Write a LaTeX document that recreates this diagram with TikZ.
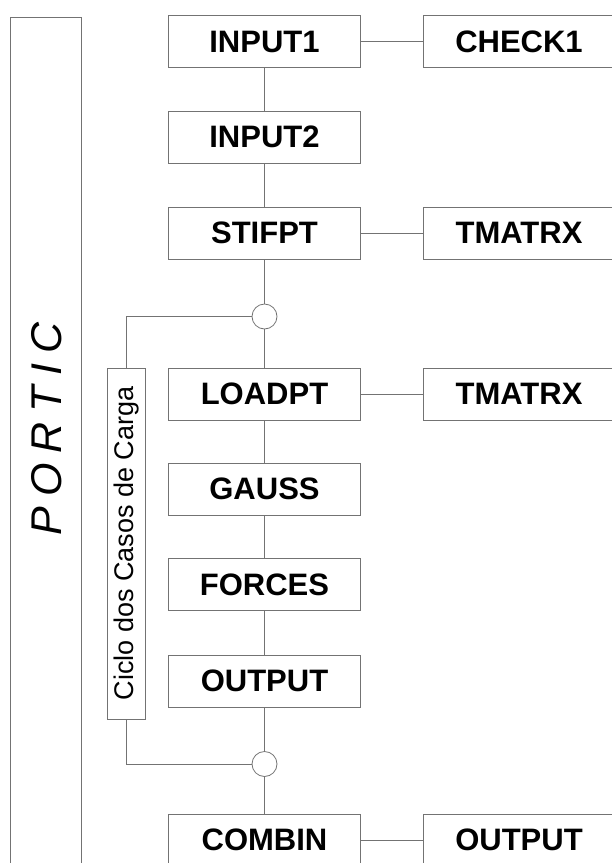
\documentclass[tikz,border=0pt]{standalone}
\usepackage{fontspec}
\usepackage{graphicx}
\setmainfont{Liberation Sans}
\begin{document}
\begin{tikzpicture}[x=1pt,y=-1pt,
  line/.style={draw=black!55, line width=0.8pt},
  prog/.style={line, minimum width=192pt, minimum height=52pt, inner sep=0pt,
    font=\fontsize{31}{36}\selectfont\bfseries},
  junction/.style={line, circle, minimum size=25pt, inner sep=0pt},
]
\useasboundingbox (0,0) rectangle (612,863);
\clip (0,0) rectangle (612,863);
% outer PORTIC frame
\node[line, minimum width=71pt, minimum height=900pt, inner sep=0pt] (portbox) at (45.5,467) {};
\node[font=\fontsize{43}{50}\selectfont\itshape, inner sep=0pt] (portic) at (47,429)
  {\rotatebox{90}{P\hspace{10pt}O\hspace{10pt}R\hspace{10pt}T\hspace{10pt}I\hspace{10pt}C}};
% main column
\node[prog] (in1)  at (264.5,41.5) {INPUT1};
\node[prog] (in2)  at (264.5,137) {INPUT2};
\node[prog] (stif) at (264.5,233) {STIFPT};
\node[junction] (c1) at (264.5,316.5) {};
\node[prog] (load) at (264.5,394) {LOADPT};
\node[prog] (gau)  at (264.5,489) {GAUSS};
\node[prog] (forc) at (264.5,584.5) {FORCES};
\node[prog] (outp) at (264.5,681) {OUTPUT};
\node[junction] (c2) at (264.5,764) {};
\node[prog] (comb) at (264.5,840) {COMBIN};
% right column
\node[prog] (chk)  at (519,41.5) {CHECK1};
\node[prog] (tm1)  at (519,233) {TMATRX};
\node[prog] (tm2)  at (519,394) {TMATRX};
\node[prog] (out2) at (519,840) {OUTPUT};
% loop box
\node[line, minimum width=38pt, minimum height=351pt, inner sep=0pt,
  font=\fontsize{27}{32}\selectfont] (ciclo) at (126.5,543.5)
  {\rotatebox{90}{Ciclo dos Casos de Carga}};
% connectors
\draw[line] (in1) -- (in2);
\draw[line] (in2) -- (stif);
\draw[line] (stif) -- (c1);
\draw[line] (c1) -- (load);
\draw[line] (load) -- (gau);
\draw[line] (gau) -- (forc);
\draw[line] (forc) -- (outp);
\draw[line] (outp) -- (c2);
\draw[line] (c2) -- (comb);
\draw[line] (in1) -- (chk);
\draw[line] (stif) -- (tm1);
\draw[line] (load) -- (tm2);
\draw[line] (comb) -- (out2);
\draw[line] (ciclo.north) |- (c1.west);
\draw[line] (ciclo.south) |- (c2.west);
\end{tikzpicture}
\end{document}
